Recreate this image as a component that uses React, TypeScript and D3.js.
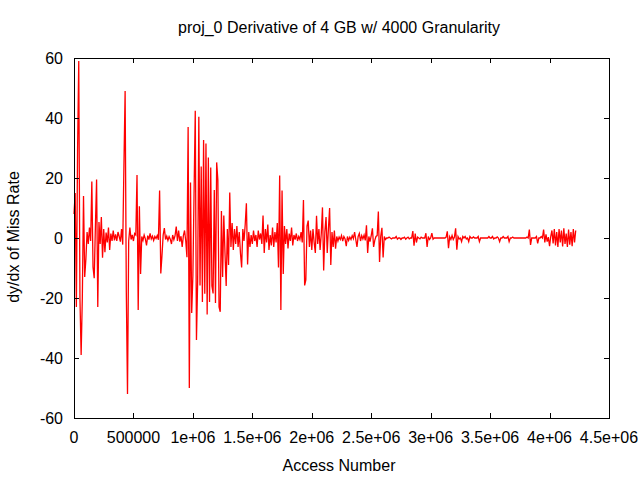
import React from 'react';
import * as d3 from 'd3';

// sampled every 10000 accesses
const accessStep = 10000;
const dydx = [
  8, 15, -23, 29, 59, -20, -39, -20, 14, -13,
  -7, 2, -2, 3.5, -1, 18.8, -9.7, -13.4, 3.8, 19.5,
  -23, 5.3, -2, 7, -6.6, 3, -4.7, 1.8, -1.5, 3.5,
  -4, 1.5, -1, 2.5, -0.8, 1.2, -1, 2, 0.5, -1.2,
  3, -2.2, 24.4, 49, -17.8, -52, -1, 3.5, -0.5, 1,
  -1, 1.5, 1, 21, -24, 10.6, -12, 0.5, -0.8, 1,
  -0.3, -2.5, 0.8, -0.5, 1.5, -0.3, 0.6, -0.8, 0.5, -0.2,
  0.8, -0.6, 15.8, -11.8, -5.8, 1, 3.3, -0.5, 0.6, -0.8,
  0.5, -0.4, -2, 1, -0.6, 0.8, 3.8, -1, 2.5, -1.2,
  0.6, -3, 0.8, 2.5, -1, -6.4, 37, -50, 18.5, -25,
  -12.5, 15.6, 42.4, -34, -14.5, 40.4, -15.8, 23.8, -21.3, 32.7,
  -18.6, 31.5, -25.5, 26.8, -21.3, 23.5, -16, -18.5, 16, -21.7,
  25.2, 19.3, -23, -24.6, 9, -13, 7.5, -5, -16, 3,
  -9, 15.2, -3, 5, -4, 3, -2, 4, -3, 2,
  -5, -9.8, 3, -1, 4.5, 11.6, -8.8, 2, -3, 1,
  -2, 2.5, -1, 1, -3, 2.5, -0.5, 1.5, -2, 7.5,
  -5, 3, -1.5, 4.5, -4, 1, -2.5, 3.5, -3, 2,
  -1.5, 5, -9.8, 20.8, -24, 15.8, -12, 4, -2, 3,
  -3.5, 1.5, -1, 3.5, -2.5, 1, -0.5, 1.5, -1, 0.5,
  -0.5, 2, -1.5, 12.7, -15.8, -14, 4, 5.8, -3, 2.5,
  -4, 3, -1.5, -5, 7.4, -2, 3, -4, 1.5, 10.2,
  -10.8, 2, 7, -5, 3, 10, -9, 2, -3, 2.5,
  -3.6, 0.5, -1, 0.3, -0.5, 0.8, -1, 0.5, -0.3, -2.7,
  0.5, -0.8, 0.3, -0.5, 0.8, -0.2, 2, -0.5, -3, 0.5,
  1.5, -1, 0.8, -0.3, 1, -0.8, 4.2, -5, 0.5, -1.2,
  0.8, 3.2, -3, -0.8, 0.5, 0.8, 8.8, -8, 0.6, 3.4,
  -6.5, 0.5, -0.5, 0, 0, 0.3, 0, -0.3, 0, 0,
  0, 0.5, -0.4, 0, 0, -0.5, 0, 0, 0.3, -0.4,
  0, 0.3, -0.3, 0, 0, 2.3, -2.6, 1.5, -1.5, 0.3,
  0, -0.3, 0.3, 0, 0, 0, 1.6, -3, 0.5, -0.5,
  0, 1.6, -0.4, 0, 0, 0, 0, 0, 0, 0,
  0, 0, 0, 0.3, 2.2, -3.4, 0.4, -0.5, 0.8, -0.5,
  0.3, 3.2, -3.9, 0.5, -0.3, 0, -1.2, 0.5, 0, 0.5,
  -0.3, 0, -1.2, 0.5, 0, 0, 0.4, 0, 0, 0,
  0.5, -1.2, 0, 0, 0, 0, 0, 0, 0, 0.5,
  0, 0, 0.5, -0.3, 0, 0, 0.4, 0, -1.2, 0,
  0, 0.5, 0, 0, 0, 0.5, -1.2, 0, 0, 0.3,
  0, 0, 0, 0, 0, 0, 0, 0, 0, 0,
  0, 0.3, 0, 2.8, -2.3, 0, 0, 0, 0, 0.5,
  -1.8, 0, 0, 0.5, 0, 2.8, -1.5, 1.2, -1.2, 0.3,
  -2.7, 0.5, 2.5, -1.8, 3, -2.5, 2, -3, 3, -1.5,
  2.5, -2.8, 3.2, -2, 1.5, -3, 2.8, -2.2, 2, -2.7,
  3, -1.5, 2.5,
];

const xTicks = [0, 500000, 1000000, 1500000, 2000000, 2500000, 3000000, 3500000, 4000000, 4500000];
const xTickLabels = ['0', '500000', '1e+06', '1.5e+06', '2e+06', '2.5e+06', '3e+06', '3.5e+06', '4e+06', '4.5e+06'];
const yTicks = [-60, -40, -20, 0, 20, 40, 60];

const W = 640;
const H = 480;
const left = 74;
const right = 609;
const top = 58;
const bottom = 418;
const font = '"Liberation Sans", Arial, sans-serif';

export default function App() {
  const x = d3.scaleLinear().domain([0, 4500000]).range([left, right]);
  const y = d3.scaleLinear().domain([-60, 60]).range([bottom, top]);

  const line = d3.line<number>()
    .x((_, i) => x(i * accessStep))
    .y(d => y(d));

  const tick = 5;

  return (
    <svg width={W} height={H} style={{ position: 'absolute', left: 0, top: 0, background: '#fff' }}
      fontFamily={font} fontSize={16}>
      <rect x={0} y={0} width={W} height={H} fill="#fff" />

      {/* data */}
      <path d={line(dydx) || ''} fill="none" stroke="#ff0000" strokeWidth={1.3} />

      {/* ticks */}
      {yTicks.map(t => (
        <g key={'y' + t} shapeRendering="crispEdges">
          <line x1={left} x2={left + tick} y1={y(t) + 0.5} y2={y(t) + 0.5} stroke="#000" />
          <line x1={right - tick} x2={right} y1={y(t) + 0.5} y2={y(t) + 0.5} stroke="#000" />
          <text x={63} y={y(t)} dy="0.36em" textAnchor="end">{t}</text>
        </g>
      ))}
      {xTicks.map((t, i) => (
        <g key={'x' + t} shapeRendering="crispEdges">
          <line x1={x(t) + 0.5} x2={x(t) + 0.5} y1={bottom} y2={bottom - tick} stroke="#000" />
          <line x1={x(t) + 0.5} x2={x(t) + 0.5} y1={top} y2={top + tick} stroke="#000" />
          <text x={x(t)} y={443} textAnchor="middle">{xTickLabels[i]}</text>
        </g>
      ))}

      {/* border */}
      <rect x={left + 0.5} y={top + 0.5} width={right - left} height={bottom - top}
        fill="none" stroke="#000" shapeRendering="crispEdges" />

      {/* labels */}
      <text x={339} y={33} textAnchor="middle">proj_0 Derivative of 4 GB w/ 4000 Granularity</text>
      <text x={339} y={471} textAnchor="middle">Access Number</text>
      <text transform="translate(19,237) rotate(-90)" textAnchor="middle">dy/dx of Miss Rate</text>
    </svg>
  );
}
